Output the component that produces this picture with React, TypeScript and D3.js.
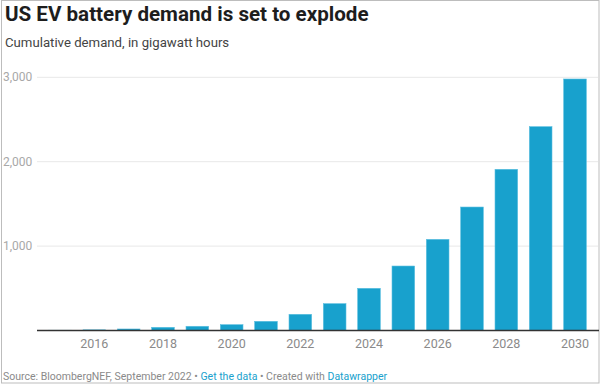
import React, { useEffect, useRef } from "react";
import * as d3 from "d3";

const years = [
  "2015", "2016", "2017", "2018", "2019", "2020", "2021", "2022",
  "2023", "2024", "2025", "2026", "2027", "2028", "2029", "2030",
];
const demand = [
  3, 8, 18, 38, 50, 69, 109, 192, 318, 500, 764, 1080, 1463, 1910, 2415, 2980,
];
const yTicks = [1000, 2000, 3000];
const xTickLabels = ["2016", "2018", "2020", "2022", "2024", "2026", "2028", "2030"];

function App() {
  const chartRef = useRef<SVGSVGElement | null>(null);

  useEffect(() => {
    const width = 605;
    const height = 386;
    const margin = { left: 37, right: 7, top: 77.3, bottom: 55.5 };
    const font = "Roboto, 'Noto Sans', sans-serif";

    const svg = d3.select(chartRef.current);
    svg.selectAll("*").remove();
    svg.attr("width", width).attr("height", height);

    svg
      .append("rect")
      .attr("x", 1.5)
      .attr("y", 0.5)
      .attr("width", 597.5)
      .attr("height", 382.5)
      .attr("fill", "white")
      .attr("stroke", "#bdbdbd")
      .attr("stroke-width", 1);

    const x = d3
      .scaleBand()
      .domain(years)
      .range([margin.left, width - margin.right])
      .padding(0.34);

    const y = d3
      .scaleLinear()
      .domain([0, 3000])
      .range([height - margin.bottom, margin.top]);

    // grid lines + y labels
    svg
      .selectAll(".grid")
      .data(yTicks)
      .enter()
      .append("line")
      .attr("x1", margin.left)
      .attr("x2", width - margin.right)
      .attr("y1", (d) => y(d))
      .attr("y2", (d) => y(d))
      .attr("stroke", "#e8e8e8")
      .attr("stroke-width", 1);

    svg
      .selectAll(".ylab")
      .data(yTicks)
      .enter()
      .append("text")
      .attr("x", 3)
      .attr("y", (d) => y(d) + 4)
      .style("font-family", font)
      .style("font-size", "12px")
      .attr("fill", "#a8a8a8")
      .text((d) => d3.format(",")(d));

    // bars
    svg
      .selectAll(".bar")
      .data(demand)
      .enter()
      .append("rect")
      .attr("x", (d, i) => x(years[i]) as number)
      .attr("width", x.bandwidth())
      .attr("y", (d) => y(d))
      .attr("height", (d) => y(0) - y(d))
      .attr("fill", "#18a1cd")
      .attr("stroke", "#5cbfe0")
      .attr("stroke-width", 0.6);

    // baseline
    svg
      .append("line")
      .attr("x1", margin.left)
      .attr("x2", width - margin.right + 1)
      .attr("y1", y(0))
      .attr("y2", y(0))
      .attr("stroke", "#333")
      .attr("stroke-width", 1.5);

    // x labels
    svg
      .selectAll(".xlab")
      .data(xTickLabels)
      .enter()
      .append("text")
      .attr("x", (d) => (x(d) as number) + x.bandwidth() / 2)
      .attr("y", 348)
      .attr("text-anchor", "middle")
      .style("font-family", font)
      .style("font-size", "12.5px")
      .attr("fill", "#8a8a8a")
      .text((d) => d);

    // title
    svg
      .append("text")
      .attr("x", 5)
      .attr("y", 21)
      .style("font-family", font)
      .style("font-size", "20.6px")
      .style("font-weight", "bold")
      .attr("fill", "#1d1d1d")
      .text("US EV battery demand is set to explode");

    svg
      .append("text")
      .attr("x", 5)
      .attr("y", 47)
      .style("font-family", font)
      .style("font-size", "13.2px")
      .attr("fill", "#444")
      .text("Cumulative demand, in gigawatt hours");

    // footer
    const footer = svg
      .append("text")
      .attr("x", 3)
      .attr("y", 380)
      .style("font-family", font)
      .style("font-size", "10.5px")
      .attr("fill", "#8a8a8a");
    footer.append("tspan").text("Source: BloombergNEF, September 2022 • ");
    footer.append("tspan").attr("fill", "#18a1cd").text("Get the data");
    footer.append("tspan").text(" • Created with ");
    footer.append("tspan").attr("fill", "#18a1cd").text("Datawrapper");
  }, []);

  return (
    <div style={{ position: "absolute", left: 0, top: 0 }}>
      <svg ref={chartRef} style={{ display: "block" }}></svg>
    </div>
  );
}

export default App;
